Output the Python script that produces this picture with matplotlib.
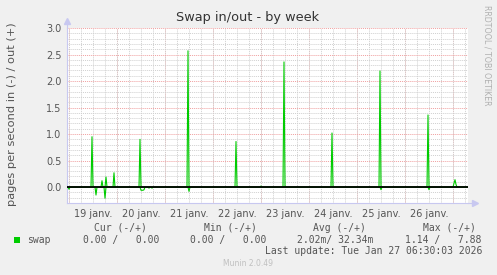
import matplotlib
matplotlib.use("Agg")
import matplotlib.pyplot as plt
import matplotlib.dates as mdates
from matplotlib.ticker import MultipleLocator, FormatStrFormatter
import pandas as pd

# data (30 minute samples)
start = "2026-01-18 23:00"
end = "2026-01-27 07:30"

out_times = ["2026-01-19 11:30", "2026-01-19 16:30", "2026-01-19 18:30", "2026-01-19 22:30",
             "2026-01-20 11:30", "2026-01-21 11:30", "2026-01-22 11:30", "2026-01-23 00:00",
             "2026-01-23 11:30", "2026-01-24 11:30", "2026-01-25 11:30", "2026-01-26 11:30",
             "2026-01-27 00:30", "2026-01-27 01:00", "2026-01-27 01:30"]
out_vals = [0.95, 0.12, 0.19, 0.27,
            0.90, 2.57, 0.86, 0.02,
            2.36, 1.02, 2.19, 1.36,
            0.07, 0.14, 0.05]

in_times = ["2026-01-19 00:00", "2026-01-19 13:30", "2026-01-19 18:00",
            "2026-01-20 12:00", "2026-01-20 12:30", "2026-01-20 13:00", "2026-01-20 13:30",
            "2026-01-20 16:00", "2026-01-20 17:30",
            "2026-01-21 12:00", "2026-01-25 12:00", "2026-01-26 12:00"]
in_vals = [-0.04, -0.15, -0.21,
           -0.06, -0.06, -0.06, -0.05,
           -0.02, -0.02,
           -0.08, -0.05, -0.05]

legend_headers = ["Cur (-/+)", "Min (-/+)", "Avg (-/+)", "Max (-/+)"]
legend_values = ["0.00 /   0.00", "0.00 /   0.00", "2.02m/ 32.34m", "1.14 /   7.88"]

idx = pd.date_range(start, end, freq="30min")
out_s = pd.Series(0.0, index=idx)
out_s[pd.to_datetime(out_times)] = out_vals
in_s = pd.Series(0.0, index=idx)
in_s[pd.to_datetime(in_times)] = in_vals

W, H = 497, 275
fig = plt.figure(figsize=(W / 100, H / 100), dpi=100, facecolor="#F0F0F0")
ax = fig.add_axes([67 / W, 1 - 203 / H, (468 - 67) / W, (203 - 28) / H])
ax.set_facecolor("white")

green = "#00CC00"
ax.plot(in_s.index, in_s.values, color=green, lw=0.8, zorder=3)
ax.plot(out_s.index, out_s.values, color=green, lw=0.8, zorder=3)
ax.axhline(0, color="black", lw=1.3, zorder=5)

ax.set_xlim(pd.Timestamp(start), pd.Timestamp(end))
ax.set_ylim(-0.3, 3.0)

ax.yaxis.set_major_locator(MultipleLocator(0.5))
ax.yaxis.set_minor_locator(MultipleLocator(0.1))
ax.yaxis.set_major_formatter(FormatStrFormatter("%.1f"))
ax.xaxis.set_major_locator(mdates.HourLocator(byhour=[12]))
ax.xaxis.set_minor_locator(mdates.HourLocator(byhour=[0, 6, 18]))
ax.xaxis.set_major_formatter(mdates.DateFormatter("%d janv."))

ax.grid(which="minor", color="#D0D0D0", ls=(0, (1, 1)), lw=0.7)
ax.grid(which="major", axis="y", color="#F0A0A0", ls=(0, (1, 1)), lw=0.7)
ax.grid(which="major", axis="x", color="#D0D0D0", ls=(0, (1, 1)), lw=0.7)
for d in pd.date_range("2026-01-19", "2026-01-27", freq="D"):
    ax.axvline(d, color="#F0A0A0", ls=(0, (1, 1)), lw=0.7, zorder=1)

ax.tick_params(which="both", length=0, labelsize=7, colors="#555555", pad=4)
for s in ["top", "right"]:
    ax.spines[s].set_visible(False)
for s in ["left", "bottom"]:
    ax.spines[s].set_color("#C8C8F0")
    ax.spines[s].set_linewidth(0.8)

# axis arrows
ax.plot([1, 1.018], [0, 0], transform=ax.transAxes, color="#C8C8F0", lw=0.8, clip_on=False)
ax.plot([1.018], [0], transform=ax.transAxes, marker=">", ms=4, color="#C8C8F0", clip_on=False)
ax.plot([0, 0], [1, 1.04], transform=ax.transAxes, color="#C8C8F0", lw=0.8, clip_on=False)
ax.plot([0], [1.04], transform=ax.transAxes, marker="^", ms=4, color="#C8C8F0", clip_on=False)

fig.text(12 / W, 1 - 114 / H, "pages per second in (-) / out (+)", rotation=90,
         ha="center", va="center", fontsize=8.2, color="#555555")
fig.text(248 / W, 1 - 18 / H, "Swap in/out - by week", ha="center", va="center",
         fontsize=9.3, color="#333333")
fig.text(487 / W, 1 - 5 / H, "RRDTOOL / TOBI OETIKER", rotation=-90, ha="center", va="top",
         fontsize=5.7, color="#B0B0B0")

mono = "DejaVu Sans Mono"
fs = 7
hx = [94, 204, 313, 423]
vx = [83, 190, 297, 405]
for x, t in zip(hx, legend_headers):
    fig.text(x / W, 1 - 228 / H, t, family=mono, fontsize=fs, color="#555555", va="center")
for x, t in zip(vx, legend_values):
    fig.text(x / W, 1 - 240 / H, t, family=mono, fontsize=fs, color="#555555", va="center")
fig.patches.append(plt.Rectangle((14 / W, 1 - 243 / H), 6 / W, 6 / H, transform=fig.transFigure,
                                 facecolor=green, edgecolor="none"))
fig.text(27 / W, 1 - 240 / H, "swap", family=mono, fontsize=fs, color="#555555", va="center")
fig.text(482 / W, 1 - 251.5 / H, "Last update: Tue Jan 27 06:30:03 2026", family=mono,
         fontsize=fs, color="#555555", va="center", ha="right")
fig.text(248 / W, 1 - 264 / H, "Munin 2.0.49", fontsize=5.5, color="#C0C0C0",
         ha="center", va="center")

fig.savefig("out.png", dpi=100, facecolor=fig.get_facecolor())
